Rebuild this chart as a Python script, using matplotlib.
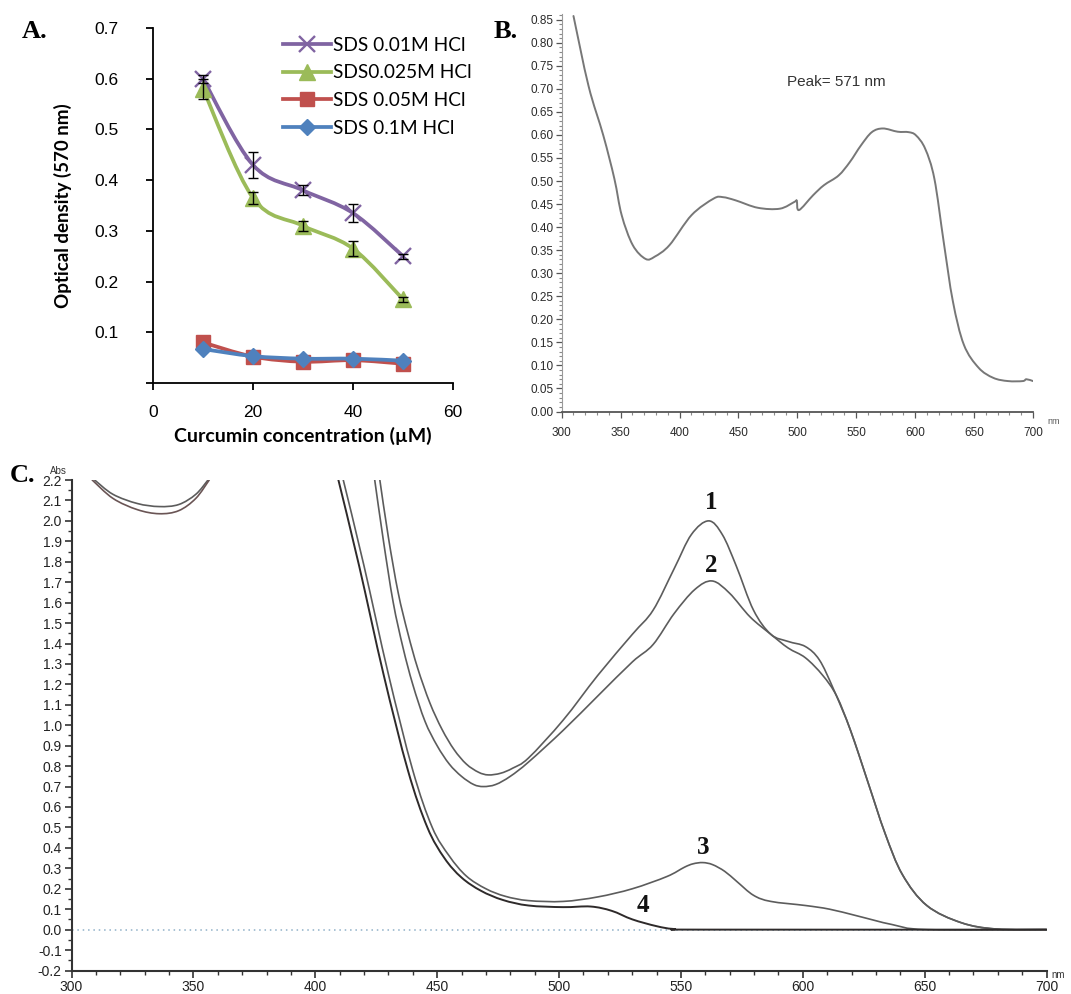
import numpy as np
import matplotlib
matplotlib.use('Agg')
import matplotlib.pyplot as plt
from matplotlib.path import Path
from matplotlib.patches import PathPatch
from matplotlib.lines import Line2D
from matplotlib.ticker import MultipleLocator

plt.rcParams['font.family'] = ['Liberation Sans', 'DejaVu Sans']

# ---------------- Panel A: OD at 570 nm vs curcumin concentration
conc = [10, 20, 30, 40, 50]
od_001 = [0.600, 0.430, 0.380, 0.335, 0.250]
od_0025 = [0.580, 0.365, 0.310, 0.265, 0.165]
od_005 = [0.080, 0.052, 0.042, 0.045, 0.038]
od_01 = [0.067, 0.053, 0.048, 0.048, 0.044]
err_001 = [0.008, 0.025, 0.010, 0.018, 0.005]
err_0025 = [0.020, 0.012, 0.010, 0.015, 0.005]
labels_a = ['SDS 0.01M HCl', 'SDS0.025M HCl', 'SDS 0.05M HCl', 'SDS 0.1M HCl']

# ---------------- Panel B: spectrum, peak 571 nm
b_nm = [310, 322.8, 335.3, 344.7, 350.9, 360.3, 371.2, 379, 391.5, 410.2, 429, 436.8,
        447.7, 466.4, 485.2, 497.7, 499.5, 501.4, 513.3, 522.6, 535, 544.5, 553.9,
        563.2, 572.6, 585.1, 594.5, 600.7, 608.5, 616.3, 624.2, 632, 641.3, 653.8,
        666.3, 678.8, 691.3, 694.4, 700]
b_abs = [0.858, 0.706, 0.599, 0.505, 0.426, 0.361, 0.331, 0.336, 0.361, 0.426, 0.462, 0.465,
         0.458, 0.442, 0.440, 0.455, 0.457, 0.437, 0.469, 0.491, 0.512, 0.541, 0.577,
         0.606, 0.614, 0.607, 0.606, 0.599, 0.570, 0.505, 0.368, 0.239, 0.145, 0.095,
         0.073, 0.066, 0.066, 0.070, 0.066]

# ---------------- Panel C: four spectra (1-4)
c1_nm = [426.5, 430, 434, 438, 442, 447, 452, 457, 462, 467, 471, 476, 481, 487.5, 501.7,
         515.9, 530.1, 538.6, 547.2, 554.3, 561.4, 567, 572.7, 579.8, 586.9, 594, 601.1,
         606.8, 612.5, 619.6, 626.7, 633.8, 640.9, 650.9, 665, 679.3, 700]
c1_abs = [2.2, 1.92, 1.65, 1.45, 1.28, 1.11, 0.98, 0.88, 0.81, 0.77, 0.757, 0.765, 0.79, 0.84,
          1.025, 1.244, 1.445, 1.563, 1.765, 1.933, 2.0, 1.933, 1.78, 1.563, 1.445, 1.41,
          1.385, 1.32, 1.18, 0.975, 0.723, 0.47, 0.269, 0.118, 0.034, 0.003, 0.0]
c2_nm = [424.4, 428, 432, 436, 440, 445, 450, 455, 460, 465, 469, 474, 480, 487.5, 501.7,
         515.9, 530.1, 538.6, 547.2, 555.7, 562.8, 569.9, 578.4, 586.9, 594, 601.1, 608.2,
         613.9, 619.6, 626.7, 633.8, 640.9, 650.9, 665, 679.3, 700]
c2_abs = [2.2, 1.9, 1.6, 1.38, 1.2, 1.02, 0.9, 0.81, 0.75, 0.71, 0.70, 0.71, 0.75, 0.82,
          0.975, 1.143, 1.31, 1.395, 1.546, 1.664, 1.706, 1.647, 1.53, 1.445, 1.378, 1.33,
          1.244, 1.143, 0.975, 0.723, 0.47, 0.269, 0.118, 0.034, 0.003, 0.0]
c3_nm = [411.5, 420, 430, 440, 448, 455, 462, 470, 478, 487.5, 501.7, 515.9, 530.1, 544.3,
         551.4, 555, 559, 563, 568, 573, 579.8, 586.9, 601.1, 611, 622.4, 636.6, 650.9, 700]
c3_abs = [2.2, 1.78, 1.25, 0.78, 0.50, 0.36, 0.262, 0.2, 0.163, 0.142, 0.138, 0.16, 0.2,
          0.26, 0.305, 0.322, 0.328, 0.318, 0.285, 0.235, 0.168, 0.138, 0.118, 0.1, 0.067,
          0.025, 0.0, 0.0]
c4_nm = [409.5, 418, 428, 438, 446, 453, 460, 468, 477, 487.5, 501.7, 513, 521.6, 530.1,
         540, 547.2, 560, 700]
c4_abs = [2.2, 1.78, 1.25, 0.78, 0.50, 0.35, 0.255, 0.19, 0.145, 0.118, 0.11, 0.113, 0.092,
          0.05, 0.017, 0.003, 0.0, 0.0]
bowl_hi_nm = [309.5, 317, 327, 336, 344, 351, 356]
bowl_hi_abs = [2.2, 2.13, 2.085, 2.07, 2.08, 2.13, 2.2]
bowl_lo_nm = [308.5, 317, 327, 336, 344, 351, 356.5]
bowl_lo_abs = [2.2, 2.11, 2.055, 2.035, 2.05, 2.11, 2.2]
c_labels = ['1', '2', '3', '4']
c_label_nm = [562.5, 562.5, 559.2, 534.4]
c_label_abs = [2.09, 1.78, 0.40, 0.118]

W, H = 1071, 994


def px(x, y):
    return x / W, 1 - y / H


def smooth_path(x, y):
    p = np.column_stack([x, y]).astype(float)
    n = len(p)
    verts = [p[0]]
    codes = [Path.MOVETO]
    for i in range(n - 1):
        p0 = p[i - 1] if i > 0 else p[i]
        p3 = p[i + 2] if i + 2 < n else p[i + 1]
        verts += [p[i] + (p[i + 1] - p0) / 6, p[i + 1] - (p3 - p[i]) / 6, p[i + 1]]
        codes += [Path.CURVE4] * 3
    return Path(verts, codes)


def smooth_line(ax, x, y, **kw):
    patch = PathPatch(smooth_path(x, y), fill=False, capstyle='round', joinstyle='round', **kw)
    ax.add_patch(patch)
    return patch


fig = plt.figure(figsize=(W / 100, H / 100), dpi=100)
calibri = ['Lato', 'DejaVu Sans']

# ======================= A =======================
axA = fig.add_axes([153 / W, 1 - 383 / H, 300 / W, 355 / H])
cols = ['#8064A2', '#9BBB59', '#C0504D', '#4F81BD']
marks = [('x', 11, 1.7), ('^', 11, 1), ('s', 10, 1), ('D', 8, 1)]
series = [od_001, od_0025, od_005, od_01]
handles = []
for k, (ys, c, (m, ms, mew)) in enumerate(zip(series, cols, marks)):
    smooth_line(axA, conc, ys, edgecolor=c, lw=2.7, zorder=2 + k)
    axA.plot(conc, ys, ls='none', marker=m, ms=ms, mew=mew, color=c, mec=c, zorder=2.5 + k)
    handles.append(Line2D([], [], color=c, lw=2.7, marker=m, ms=ms, mew=mew, mec=c))
axA.errorbar(conc, od_001, yerr=err_001, fmt='none', ecolor='black', elinewidth=1,
             capsize=3.5, capthick=1, zorder=10)
axA.errorbar(conc, od_0025, yerr=err_0025, fmt='none', ecolor='black', elinewidth=1,
             capsize=3.5, capthick=1, zorder=10)
axA.set_xlim(0, 60)
axA.set_ylim(0, 0.7)
axA.set_xticks([0, 20, 40, 60])
axA.set_yticks(np.arange(0, 0.71, 0.1))
axA.set_yticklabels([''] + ['%.1f' % v for v in np.arange(0.1, 0.71, 0.1)])
for s in ['top', 'right']:
    axA.spines[s].set_visible(False)
for s in ['left', 'bottom']:
    axA.spines[s].set_linewidth(1.3)
axA.tick_params(direction='out', length=5, width=1.3, labelsize=12.5, colors='black')
axA.tick_params(axis='y', pad=20)
axA.tick_params(axis='x', pad=11)
axA.set_xlabel('Curcumin concentration (µM)', fontsize=14, fontweight='bold', family=calibri)
axA.xaxis.set_label_coords(0.5, -0.125)
axA.set_ylabel('Optical density (570 nm)', fontsize=13.5, fontweight='bold', family=calibri)
axA.yaxis.set_label_coords(-0.27, 0.5)
axA.legend(handles, labels_a, loc='upper left', bbox_to_anchor=(0.433, 0.975), frameon=False,
           handlelength=2.5, handletextpad=0.12, labelspacing=0.55,
           borderpad=0, borderaxespad=0, prop={'family': calibri, 'size': 13.8})
axA.patch.set_alpha(0)

# ======================= B =======================
axB = fig.add_axes([561.7 / W, 1 - 411.5 / H, (1033 - 561.7) / W, (411.5 - 13.7) / H])
smooth_line(axB, b_nm, b_abs, edgecolor='#777777', lw=1.4)
axB.set_xlim(300, 700)
axB.set_ylim(0, 0.863)
axB.xaxis.set_major_locator(MultipleLocator(50))
axB.xaxis.set_minor_locator(MultipleLocator(10))
axB.set_yticks(np.arange(0, 0.851, 0.05))
axB.set_yticklabels(['%.2f' % v for v in np.arange(0, 0.851, 0.05)])
axB.yaxis.set_minor_locator(MultipleLocator(0.01))
for s in ['top', 'right']:
    axB.spines[s].set_visible(False)
axB.spines['left'].set_color('#9a9a9a')
axB.spines['left'].set_linewidth(0.8)
axB.spines['bottom'].set_color('#555555')
axB.spines['bottom'].set_linewidth(1.3)
axB.tick_params(which='major', direction='out', length=4, width=0.9, labelsize=8.5,
                colors='#555555', labelcolor='#2a2a2a', pad=2)
axB.tick_params(which='minor', direction='out', length=2.5, width=0.8, colors='#8a8a8a')
axB.tick_params(axis='x', which='major', pad=7)
for t in axB.get_xticklabels() + axB.get_yticklabels():
    t.set_family(['Liberation Sans Narrow', 'Liberation Sans'])
axB.text(0.478, 0.828, 'Peak= 571 nm', transform=axB.transAxes, fontsize=11,
         color='#333333', va='center')
fig.text(*px(1047, 421), 'nm', fontsize=6.5, color='#555555', va='center')

# ======================= C =======================
axC = fig.add_axes([71.5 / W, 1 - 970.5 / H, (1046.5 - 71.5) / W, (970.5 - 480) / H])
axC.axhline(0, color='#8fb0c8', lw=1.1, ls=(0, (1, 2.5)), zorder=1)
curve_col = '#5c5c5c'
smooth_line(axC, c1_nm, c1_abs, edgecolor=curve_col, lw=1.2, zorder=3)
smooth_line(axC, c2_nm, c2_abs, edgecolor=curve_col, lw=1.2, zorder=3)
smooth_line(axC, c3_nm, c3_abs, edgecolor=curve_col, lw=1.2, zorder=3)
smooth_line(axC, c4_nm, c4_abs, edgecolor='#2e2a2a', lw=1.4, zorder=4)
smooth_line(axC, bowl_hi_nm, bowl_hi_abs, edgecolor=curve_col, lw=1.2, zorder=3)
smooth_line(axC, bowl_lo_nm, bowl_lo_abs, edgecolor='#6a5555', lw=1.2, zorder=3)
for lab, xn, ya in zip(c_labels, c_label_nm, c_label_abs):
    axC.text(xn, ya, lab, fontsize=18, fontweight='bold', ha='center', va='center',
             family=['Liberation Serif', 'DejaVu Serif'], color='#111111')
axC.set_xlim(300, 700)
axC.set_ylim(-0.2, 2.2)
axC.xaxis.set_major_locator(MultipleLocator(50))
axC.xaxis.set_minor_locator(MultipleLocator(10))
axC.yaxis.set_major_locator(MultipleLocator(0.1))
axC.yaxis.set_minor_locator(MultipleLocator(0.05))
axC.yaxis.set_major_formatter(plt.FormatStrFormatter('%.1f'))
for s in ['top', 'right']:
    axC.spines[s].set_visible(False)
for s in ['left', 'bottom']:
    axC.spines[s].set_color('#333333')
    axC.spines[s].set_linewidth(1.5)
axC.tick_params(which='major', direction='out', length=5, width=1.2, labelsize=10,
                colors='#333333', labelcolor='#222222', pad=2)
axC.tick_params(which='minor', direction='out', length=3, width=1.0, colors='#333333')
for t in axC.get_xticklabels() + axC.get_yticklabels():
    t.set_family(['Liberation Sans Narrow', 'Liberation Sans'])
fig.text(*px(50, 471), 'Abs', fontsize=7, color='#333333', va='center')
fig.text(*px(1051, 975), 'nm', fontsize=7, color='#333333', va='center')

# ======================= panel letters =======================
for lab, (x, y) in zip(['A.', 'B.', 'C.'], [(22, 32), (494, 32), (10, 476)]):
    fig.text(*px(x, y), lab, fontsize=19, fontweight='bold', va='center',
             family=['Liberation Serif', 'DejaVu Serif'])

fig.savefig('out.png', dpi=100)
